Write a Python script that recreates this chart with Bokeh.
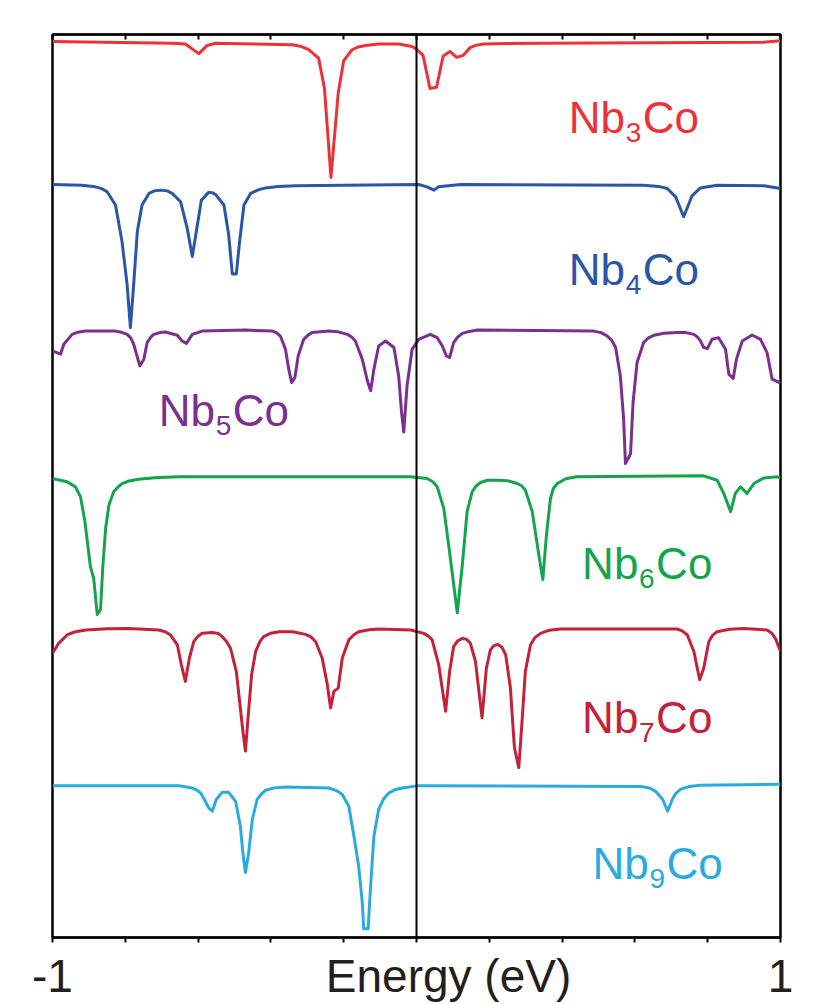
from bokeh.plotting import figure
from bokeh.models import ColumnDataSource, Span, LinearAxis, FixedTicker, Range1d
from bokeh.embed import file_html
from bokeh.resources import INLINE
from bokeh.core.properties import value

# ---------------- data (energy in eV, relative transmission) ----------------
names = ["Nb3Co", "Nb4Co", "Nb5Co", "Nb6Co", "Nb7Co", "Nb9Co"]
subs = ["3", "4", "5", "6", "7", "9"]
colors = ["#ED3237", "#2A56A8", "#7B2F8E", "#13A54B", "#C42239", "#29ABE2"]
offsets = [5.0, 4.05, 3.07, 2.09, 1.07, 0.02]

nb3_e = [-1.0, -0.671, -0.635, -0.598, -0.575, -0.552, -0.341, -0.32, -0.297, -0.269,
         -0.253, -0.235, -0.215, -0.2, -0.177, -0.16, -0.14, -0.104, -0.049, -0.012,
         0.002, 0.018, 0.037, 0.055, 0.073, 0.092, 0.11, 0.128, 0.148, 0.165,
         0.185, 0.25, 0.349, 0.953, 1.0]
nb3_t = [1.007, 0.995, 0.989, 0.925, 0.98, 0.995, 0.985, 0.975, 0.953, 0.895,
         0.695, 0.095, 0.662, 0.878, 0.951, 0.97, 0.98, 0.989, 0.989, 0.973,
         0.951, 0.913, 0.691, 0.7, 0.907, 0.94, 0.9, 0.913, 0.967, 0.982,
         0.989, 0.993, 0.995, 1.002, 1.011]

nb4_e = [-1.0, -0.92, -0.882, -0.865, -0.85, -0.827, -0.809, -0.795, -0.786, -0.777,
         -0.767, -0.754, -0.735, -0.72, -0.703, -0.685, -0.671, -0.648, -0.63, -0.616,
         -0.602, -0.591, -0.571, -0.56, -0.552, -0.529, -0.516, -0.506, -0.495, -0.486,
         -0.474, -0.456, -0.435, -0.415, -0.38, -0.332, 0.006, 0.029, 0.048, 0.061,
         0.121, 0.624, 0.665, 0.689, 0.712, 0.734, 0.757, 0.78, 0.826, 0.954,
         1.0]
nb4_t = [0.998, 0.993, 0.982, 0.97, 0.949, 0.86, 0.615, 0.327, 0.038, 0.327,
         0.682, 0.86, 0.938, 0.955, 0.96, 0.955, 0.938, 0.882, 0.705, 0.515,
         0.727, 0.893, 0.945, 0.942, 0.931, 0.86, 0.66, 0.398, 0.398, 0.615,
         0.86, 0.938, 0.962, 0.975, 0.985, 0.989, 0.998, 0.982, 0.96, 0.982,
         0.998, 0.993, 0.985, 0.971, 0.915, 0.782, 0.922, 0.975, 0.993, 0.989,
         0.971]

nb5_e = [-1.0, -0.978, -0.969, -0.946, -0.93, -0.909, -0.827, -0.81, -0.795, -0.785,
         -0.777, -0.76, -0.749, -0.74, -0.73, -0.722, -0.705, -0.69, -0.657, -0.644,
         -0.632, -0.616, -0.589, -0.5, -0.47, -0.396, -0.385, -0.374, -0.36, -0.351,
         -0.343, -0.334, -0.325, -0.31, -0.298, -0.287, -0.241, -0.215, -0.19, -0.178,
         -0.168, -0.149, -0.135, -0.126, -0.117, -0.104, -0.085, -0.062, -0.049, -0.041,
         -0.035, -0.026, -0.012, 0.006, 0.038, 0.057, 0.071, 0.082, 0.091, 0.102,
         0.113, 0.126, 0.145, 0.167, 0.487, 0.507, 0.524, 0.536, 0.547, 0.56,
         0.569, 0.574, 0.588, 0.595, 0.606, 0.624, 0.637, 0.652, 0.68, 0.716,
         0.74, 0.762, 0.772, 0.78, 0.789, 0.799, 0.812, 0.83, 0.849, 0.858,
         0.87, 0.879, 0.895, 0.922, 0.945, 0.963, 0.977, 1.0]
nb5_t = [0.862, 0.84, 0.907, 0.973, 0.988, 0.995, 0.995, 0.987, 0.973, 0.95,
         0.907, 0.762, 0.807, 0.918, 0.955, 0.973, 0.985, 0.989, 0.967, 0.929,
         0.913, 0.973, 0.995, 1.0, 1.002, 0.995, 0.985, 0.962, 0.873, 0.74,
         0.651, 0.685, 0.829, 0.94, 0.968, 0.985, 0.995, 0.99, 0.973, 0.955,
         0.929, 0.807, 0.662, 0.595, 0.74, 0.895, 0.929, 0.885, 0.695, 0.451,
         0.318, 0.629, 0.873, 0.94, 0.973, 0.951, 0.895, 0.829, 0.818, 0.918,
         0.955, 0.98, 0.993, 1.002, 0.995, 0.985, 0.962, 0.935, 0.885, 0.695,
         0.407, 0.107, 0.173, 0.518, 0.785, 0.918, 0.95, 0.967, 0.98, 0.985,
         0.985, 0.973, 0.955, 0.929, 0.885, 0.878, 0.94, 0.951, 0.873, 0.707,
         0.678, 0.807, 0.929, 0.969, 0.94, 0.851, 0.673, 0.647]

nb6_e = [-1.0, -0.96, -0.937, -0.923, -0.911, -0.902, -0.896, -0.887, -0.877, -0.868,
         -0.862, -0.854, -0.845, -0.832, -0.82, -0.809, -0.79, -0.763, -0.72, -0.653,
         -0.016, 0.029, 0.045, 0.057, 0.075, 0.093, 0.112, 0.126, 0.139, 0.153,
         0.163, 0.176, 0.195, 0.222, 0.25, 0.277, 0.288, 0.299, 0.318, 0.336,
         0.347, 0.357, 0.368, 0.376, 0.387, 0.41, 0.441, 0.789, 0.826, 0.844,
         0.863, 0.876, 0.89, 0.908, 0.927, 0.954, 0.991, 1.0]
nb6_t = [0.987, 0.965, 0.931, 0.865, 0.698, 0.52, 0.398, 0.32, 0.075, 0.109,
         0.387, 0.653, 0.809, 0.898, 0.93, 0.953, 0.97, 0.982, 0.992, 0.998,
         0.998, 0.987, 0.965, 0.931, 0.787, 0.453, 0.087, 0.409, 0.765, 0.898,
         0.935, 0.96, 0.975, 0.975, 0.972, 0.953, 0.94, 0.909, 0.765, 0.475,
         0.309, 0.609, 0.853, 0.92, 0.953, 0.985, 0.998, 1.005, 0.975, 0.887,
         0.765, 0.887, 0.931, 0.887, 0.953, 0.991, 0.998, 0.991]

nb7_e = [-1.0, -0.983, -0.96, -0.94, -0.909, -0.85, -0.79, -0.708, -0.69, -0.676,
         -0.657, -0.646, -0.635, -0.624, -0.612, -0.6, -0.589, -0.561, -0.545, -0.534,
         -0.522, -0.511, -0.495, -0.484, -0.477, -0.47, -0.462, -0.453, -0.442, -0.43,
         -0.42, -0.4, -0.378, -0.34, -0.305, -0.29, -0.277, -0.259, -0.245, -0.236,
         -0.227, -0.215, -0.204, -0.186, -0.172, -0.159, -0.13, -0.104, -0.016, 0.02,
         0.032, 0.043, 0.061, 0.08, 0.091, 0.102, 0.113, 0.126, 0.137, 0.148,
         0.162, 0.18, 0.192, 0.203, 0.212, 0.223, 0.235, 0.245, 0.258, 0.269,
         0.281, 0.29, 0.299, 0.313, 0.325, 0.341, 0.365, 0.396, 0.716, 0.73,
         0.744, 0.762, 0.778, 0.789, 0.803, 0.813, 0.826, 0.86, 0.899, 0.963,
         0.976, 0.986, 1.0]
nb7_t = [0.835, 0.902, 0.958, 0.978, 0.991, 1.0, 1.002, 0.991, 0.98, 0.958,
         0.891, 0.758, 0.647, 0.802, 0.913, 0.95, 0.969, 0.975, 0.968, 0.947,
         0.915, 0.869, 0.713, 0.469, 0.313, 0.18, 0.425, 0.691, 0.847, 0.915,
         0.947, 0.97, 0.98, 0.98, 0.962, 0.945, 0.913, 0.802, 0.625, 0.469,
         0.58, 0.602, 0.802, 0.925, 0.96, 0.98, 0.993, 0.998, 0.991, 0.969,
         0.952, 0.925, 0.758, 0.447, 0.713, 0.88, 0.918, 0.935, 0.93, 0.902,
         0.78, 0.402, 0.735, 0.858, 0.885, 0.895, 0.875, 0.825, 0.602, 0.202,
         0.069, 0.38, 0.713, 0.891, 0.94, 0.969, 0.99, 0.998, 0.998, 0.985,
         0.958, 0.847, 0.658, 0.735, 0.913, 0.955, 0.98, 0.997, 1.002, 0.991,
         0.97, 0.935, 0.847]

nb9_e = [-1.0, -0.653, -0.616, -0.605, -0.593, -0.58, -0.571, -0.561, -0.55, -0.534,
         -0.516, -0.497, -0.484, -0.477, -0.47, -0.461, -0.451, -0.438, -0.425, -0.415,
         -0.39, -0.36, -0.241, -0.22, -0.204, -0.186, -0.172, -0.159, -0.149, -0.145,
         -0.133, -0.126, -0.117, -0.104, -0.09, -0.076, -0.06, -0.039, 0.006, 0.615,
         0.64, 0.657, 0.676, 0.69, 0.703, 0.712, 0.725, 0.75, 0.78, 1.0]
nb9_t = [0.998, 0.998, 0.982, 0.97, 0.949, 0.893, 0.849, 0.827, 0.905, 0.953,
         0.953, 0.893, 0.727, 0.549, 0.415, 0.549, 0.771, 0.905, 0.945, 0.967,
         0.983, 0.989, 0.982, 0.965, 0.938, 0.86, 0.66, 0.46, 0.215, 0.038,
         0.038, 0.327, 0.66, 0.838, 0.91, 0.949, 0.97, 0.982, 0.998, 0.993,
         0.982, 0.96, 0.907, 0.827, 0.907, 0.945, 0.973, 0.993, 1.0, 1.007]

energies = [nb3_e, nb4_e, nb5_e, nb6_e, nb7_e, nb9_e]
trans = [nb3_t, nb4_t, nb5_t, nb6_t, nb7_t, nb9_t]

tick_minor = [-1.0, -0.8, -0.6, -0.4, -0.2, 0.0, 0.2, 0.4, 0.6, 0.8, 1.0]
label_ticks = [-1, 0.088, 1]
label_texts = ["-1", "Energy (eV)", "1"]

# label anchors (start of "Nb", baseline) in data units
lab_x = [0.418, 0.418, -0.708, 0.455, 0.455, 0.4835]
lab_y = [5.50, 4.48, 3.535, 2.507, 1.475, 0.493]

FONT = "Liberation Sans"

p = figure(width=800, height=1004, x_range=Range1d(-1, 1), y_range=Range1d(0, 6.0533),
           output_backend="svg", toolbar_location=None, y_axis_location=None,
           min_border_left=52, min_border_right=20, min_border_top=34, min_border_bottom=62)
p.xgrid.visible = False
p.ygrid.visible = False
p.outline_line_color = "black"
p.outline_line_width = 2.5
p.background_fill_color = "white"
p.border_fill_color = "white"

ax = p.xaxis[0]
ax.ticker = FixedTicker(ticks=label_ticks, minor_ticks=tick_minor)
ax.major_label_overrides = dict(zip(label_ticks, label_texts))
ax.axis_line_color = "black"
ax.axis_line_width = 2
ax.minor_tick_line_color = "black"
ax.minor_tick_line_width = 2
ax.minor_tick_in = 0
ax.minor_tick_out = 5
ax.major_tick_in = 0
ax.major_tick_out = 0
ax.major_tick_line_color = None
ax.major_label_standoff = 7
ax.major_label_text_font = FONT
ax.major_label_text_font_size = "46px"
ax.major_label_text_color = "#231F20"

top = LinearAxis(ticker=FixedTicker(ticks=[], minor_ticks=tick_minor),
                 axis_line_color="black", axis_line_width=2,
                 minor_tick_line_color="black", minor_tick_line_width=2,
                 minor_tick_in=5, minor_tick_out=0, major_tick_in=0, major_tick_out=0,
                 major_label_text_font_size="0px")
p.add_layout(top, "above")

p.add_layout(Span(location=0, dimension="height", line_color="black", line_width=2))

for e, t, off, c in zip(energies, trans, offsets, colors):
    src = ColumnDataSource(dict(x=e, y=[v + off for v in t]))
    p.line("x", "y", source=src, line_color=c, line_width=3, line_join="round")

# curve labels: "Nb" + subscript digit + "Co"
for lx, ly, s, c in zip(lab_x, lab_y, subs, colors):
    src = ColumnDataSource(dict(
        x=[lx, lx, lx], y=[ly, ly, ly], text=["Nb", s, "Co"],
        xo=[0, 57, 74], yo=[0, 15, 0], fs=["44px", "28px", "44px"]))
    p.text("x", "y", text="text", source=src, x_offset="xo", y_offset="yo",
           text_font_size="fs", text_font=value(FONT), text_color=c,
           text_align="left", text_baseline="alphabetic")

open("out.html", "w").write(file_html(p, INLINE))
